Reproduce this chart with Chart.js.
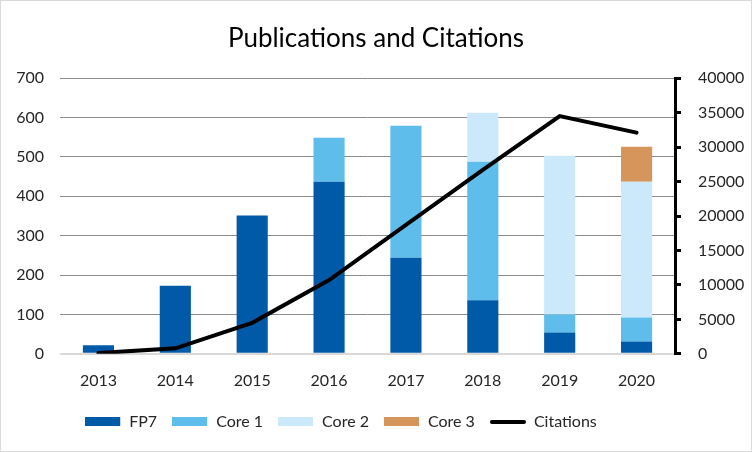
<!DOCTYPE html>
<html>
<head>
<meta charset="utf-8">
<script src="https://cdn.jsdelivr.net/npm/chart.js@4"></script>
<style>
  html, body { margin: 0; padding: 0; background: #fff; }
  #box { width: 750px; height: 450px; border: 1px solid #d9d9d9; position: relative; }
  canvas { display: block; }
</style>
</head>
<body>
<div id="box"><canvas id="c" width="750" height="450"></canvas></div>
<script>
var YEARS = ["2013", "2014", "2015", "2016", "2017", "2018", "2019", "2020"];
var FP7 = [22, 173, 351, 437, 244, 136, 54, 31];
var CORE1 = [0, 0, 0, 112, 335, 352, 46, 61];
var CORE2 = [0, 0, 0, 0, 0, 124, 403, 345];
var CORE3 = [0, 0, 0, 0, 0, 0, 0, 89];
var CITATIONS = [100, 800, 4500, 10700, 18700, 26700, 34500, 32100];

var FONT = "Lato, 'Open Sans', sans-serif";
var TXT = "#262626";

// small swatch images for the legend (boxes + the thick citations line)
function swatch(color, isLine) {
  var cv = document.createElement("canvas");
  cv.width = 36; cv.height = 10;
  var g = cv.getContext("2d");
  if (isLine) {
    g.strokeStyle = color; g.lineWidth = 4; g.lineCap = "round";
    g.beginPath(); g.moveTo(2, 5); g.lineTo(34, 5); g.stroke();
  } else {
    g.fillStyle = color; g.fillRect(0, 0, 35, 9);
  }
  return cv;
}

function barSet(label, data, color) {
  return { type: "bar", label: label, data: data, backgroundColor: color, yAxisID: "y",
           stack: "pub", order: 1, barPercentage: 0.405, categoryPercentage: 1,
           pointStyle: swatch(color, false) };
}

var chart = new Chart(document.getElementById("c"), {
  data: {
    labels: YEARS,
    datasets: [
      barSet("FP7", FP7, "#005AA8"),
      barSet("Core 1", CORE1, "#5EBDEB"),
      barSet("Core 2", CORE2, "#CCE9FB"),
      barSet("Core 3", CORE3, "#D6955B"),
      { type: "line", label: "Citations", data: CITATIONS, yAxisID: "y2", order: 0,
        borderColor: "#000", backgroundColor: "#000", borderWidth: 4, pointRadius: 0,
        tension: 0, borderCapStyle: "round", borderJoinStyle: "miter",
        pointStyle: swatch("#000", true) }
    ]
  },
  options: {
    responsive: false, animation: false,
    layout: { padding: { left: 0, right: 0, top: 0, bottom: 11 } },
    plugins: {
      title: { display: true, text: "Publications and Citations", color: "#000",
               font: { family: FONT, size: 26, weight: "normal" }, padding: { top: 22, bottom: 24 } },
      legend: { position: "bottom",
                labels: { usePointStyle: true, pointStyleWidth: 36, boxHeight: 10, padding: 15,
                          color: TXT, font: { family: FONT, size: 16 },
                          sort: function (a, b) { return a.datasetIndex - b.datasetIndex; } } },
      tooltip: { enabled: false }
    },
    scales: {
      x: { stacked: true, grid: { display: false }, border: { display: false },
           ticks: { color: TXT, font: { family: FONT, size: 16 }, padding: 9 } },
      y: { stacked: true, min: 0, max: 700, position: "left",
           ticks: { stepSize: 100, color: TXT, font: { family: FONT, size: 16 }, padding: 16 },
           grid: { color: function (c) { return c.tick && c.tick.value === 0 ? "#d9d9d9" : "#8c8c8c"; },
                   lineWidth: function (c) { return c.tick && c.tick.value === 0 ? 2 : 1; },
                   drawTicks: false },
           border: { display: false },
           afterFit: function (s) { s.width = 59; } },
      y2: { min: 0, max: 40000, position: "right",
            ticks: { stepSize: 5000, color: TXT, font: { family: FONT, size: 16 }, padding: 17,
                     callback: function (v) { return String(v); } },
            grid: { drawOnChartArea: false, color: "#000", lineWidth: 3, tickLength: 6 },
            border: { display: true, color: "#000", width: 3 },
            afterFit: function (s) { s.width = 76; } }
    }
  }
});

// legend in the original sits left of centre -> nudge it over when drawn
var legendDraw = chart.legend.draw.bind(chart.legend);
chart.legend.draw = function () {
  var ctx = chart.ctx;
  ctx.save();
  ctx.translate(-35, 0);
  legendDraw();
  ctx.restore();
};
chart.draw();
</script>
</body>
</html>
